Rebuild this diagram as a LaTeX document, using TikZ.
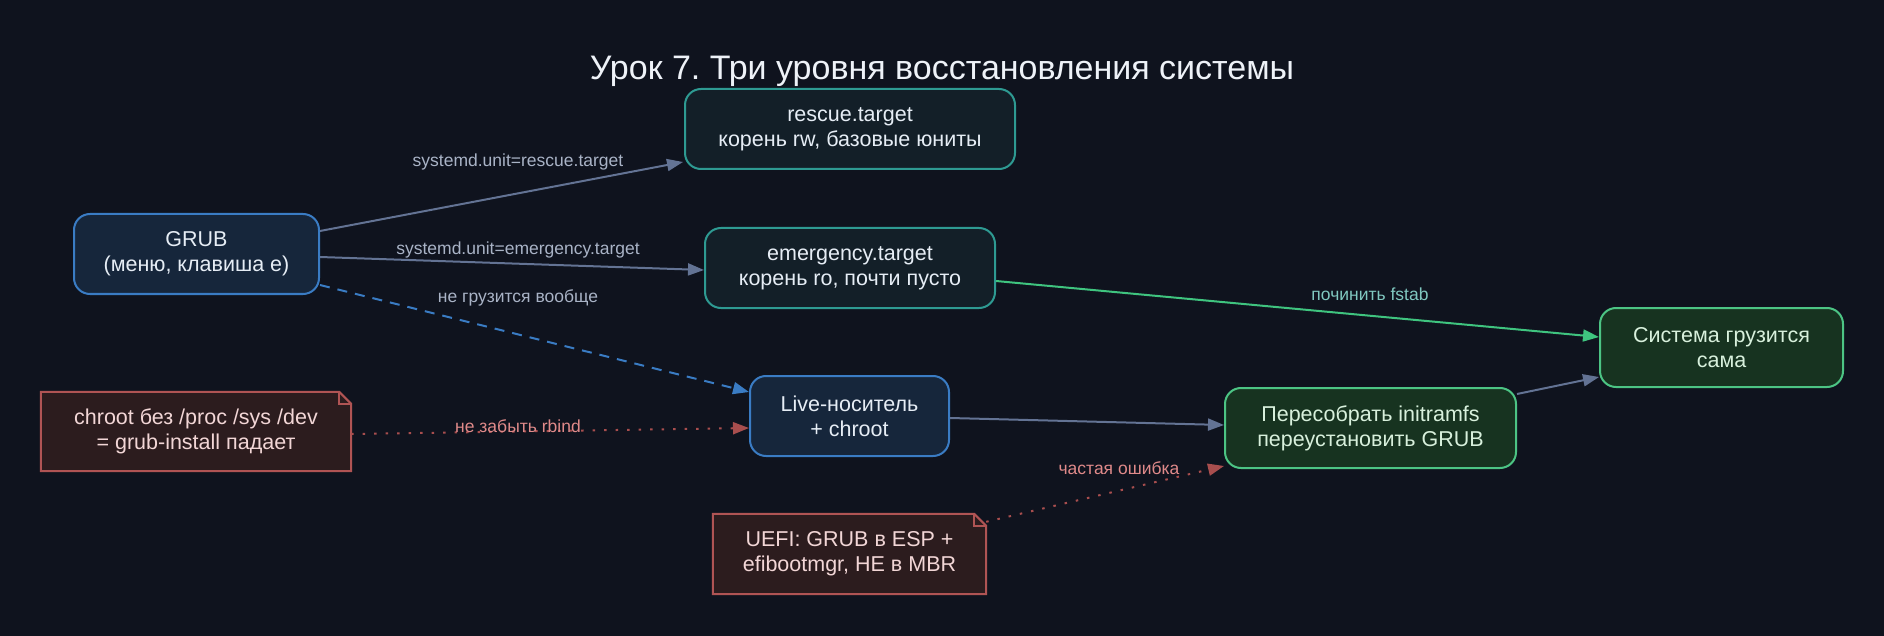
\documentclass[tikz,border=0pt]{standalone}
\usepackage{fontspec}
\setmainfont{Liberation Sans}
\usetikzlibrary{arrows.meta,backgrounds}
\frenchspacing
\definecolor{bg}{HTML}{0F131E}
\definecolor{bluefill}{HTML}{16263B}
\definecolor{blueline}{HTML}{3A7CC4}
\definecolor{tealfill}{HTML}{131F28}
\definecolor{tealline}{HTML}{2E9A92}
\definecolor{greenfill}{HTML}{173320}
\definecolor{greenline}{HTML}{4CC484}
\definecolor{notefill}{HTML}{2C1C1E}
\definecolor{noteline}{HTML}{B05454}
\definecolor{edgegray}{HTML}{637394}
\definecolor{labelgray}{HTML}{A9B3C6}
\definecolor{fstabcol}{HTML}{80C8C0}
\definecolor{redlabel}{HTML}{E08A8A}
\definecolor{redline}{HTML}{A84E4E}
\definecolor{greenedge}{HTML}{3FC47F}
\definecolor{titlecol}{HTML}{EEF2F8}
\definecolor{nodetext}{HTML}{E6EDF5}
\definecolor{greentext}{HTML}{D8F0DC}
\definecolor{notetext}{HTML}{F2D6D6}
\tikzset{
  base/.style={rounded corners=16pt, line width=2pt, inner sep=0pt, align=center,
    font=\fontsize{21.5}{25}\selectfont},
  bluebox/.style={base, draw=blueline, fill=bluefill, text=nodetext},
  tealbox/.style={base, draw=tealline, fill=tealfill, text=nodetext},
  greenbox/.style={base, draw=greenline, fill=greenfill, text=greentext},
  notebox/.style={inner sep=0pt, align=center, text=notetext,
    font=\fontsize{21.5}{25}\selectfont},
  noteshape/.style={draw=noteline, fill=notefill, line width=2pt},
  conn/.style={line width=2pt, draw=edgegray, -{Triangle[length=16pt,width=12pt]}},
  lbl/.style={font=\fontsize{17.5}{20}\selectfont, text=labelgray, inner sep=0pt},
}
\begin{document}
\begin{tikzpicture}[x=1pt,y=-1pt]
\useasboundingbox (0,0) rectangle (1884,636);
\begin{scope}[on background layer]
\fill[bg] (0,0) rectangle (1884,636);
\end{scope}

\node[font=\fontsize{34}{38}\selectfont, text=titlecol, anchor=base, inner sep=0pt] (title) at (942,80) {Урок 7. Три уровня восстановления системы};

\node[bluebox, minimum width=245pt, minimum height=80pt] (grub) at (196.5,254) {GRUB\\(меню, клавиша e)};
\node[tealbox, minimum width=330pt, minimum height=80pt] (rescue) at (850,129) {rescue.target\\корень rw, базовые юниты};
\node[tealbox, minimum width=290pt, minimum height=80pt] (emerg) at (850,268) {emergency.target\\корень ro, почти пусто};
\node[bluebox, minimum width=199pt, minimum height=80pt] (live) at (849.5,416) {Live-носитель\\+ chroot};
\node[greenbox, minimum width=291pt, minimum height=80pt] (rebuild) at (1370.5,428) {Пересобрать initramfs\\переустановить GRUB};
\node[greenbox, minimum width=243pt, minimum height=79pt] (boots) at (1721.5,347.5) {Система грузится\\сама};
\node[notebox, minimum width=310pt, minimum height=79pt] (chrootnote) at (196,431.5) {chroot без /proc /sys /dev\\= grub-install падает};
\node[notebox, minimum width=273pt, minimum height=80pt] (uefinote) at (849.5,554) {UEFI: GRUB в ESP +\\efibootmgr, НЕ в MBR};

\begin{scope}[on background layer]
\foreach \n in {chrootnote,uefinote}{
  \filldraw[noteshape] (\n.south west) -- (\n.north west) -- ([xshift=-12pt]\n.north east)
    -- ([yshift=-12pt]\n.north east) -- (\n.south east) -- cycle;
  \draw[draw=noteline, line width=2pt] ([xshift=-12pt]\n.north east) -- ([xshift=-12pt,yshift=-12pt]\n.north east) -- ([yshift=-12pt]\n.north east);
}
\end{scope}

% connectors
\draw[conn] ([yshift=23pt]grub.east) -- ([xshift=-1pt,yshift=-33pt]rescue.west);
\draw[conn] ([yshift=-3pt]grub.east) -- ([yshift=-2pt]emerg.west);
\draw[conn, draw=blueline, dash pattern=on 10pt off 8pt] ([yshift=-31pt]grub.east) -- ([yshift=24pt]live.west);
\draw[conn, draw=greenedge] ([yshift=-13pt]emerg.east) -- ([yshift=10.5pt]boots.west);
\draw[conn] ([yshift=-2pt]live.east) -- ([yshift=3pt]rebuild.west);
\draw[conn] ([yshift=34pt]rebuild.east) -- ([yshift=-29.5pt]boots.west);
\draw[conn, draw=redline, dash pattern=on 2.5pt off 9pt] ([yshift=-2.5pt]chrootnote.east) -- ([yshift=-12pt]live.west);
\draw[conn, draw=redline, dash pattern=on 2.5pt off 9pt] ([yshift=-8pt]uefinote.north east) -- ([yshift=-38pt]rebuild.west);

% labels
\node[lbl] (l1) at (518,162) {systemd.unit=rescue.target};
\node[lbl] (l2) at (518,250) {systemd.unit=emergency.target};
\node[lbl] (l3) at (518,298) {не грузится вообще};
\node[lbl, text=fstabcol] (l4) at (1370,294) {починить fstab};
\node[lbl, text=redlabel] (l5) at (518,426) {не забыть rbind};
\node[lbl, text=redlabel] (l6) at (1119,468) {частая ошибка};
\end{tikzpicture}
\end{document}
